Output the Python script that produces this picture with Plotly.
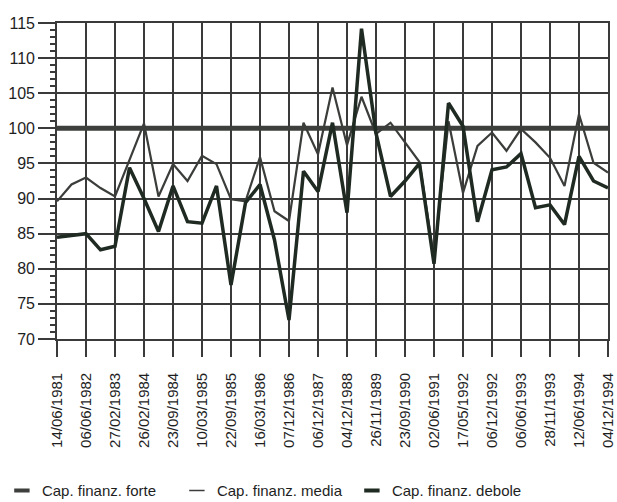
import plotly.graph_objects as go

date_labels = ["14/06/1981", "06/06/1982", "27/02/1983", "26/02/1984", "23/09/1984",
               "10/03/1985", "22/09/1985", "16/03/1986", "07/12/1986", "06/12/1987",
               "04/12/1988", "26/11/1989", "23/09/1990", "02/06/1991", "17/05/1992",
               "06/12/1992", "06/06/1993", "28/11/1993", "12/06/1994", "04/12/1994"]

# 39 observations; every other one carries a date label
cap_media = [89.6, 92.0, 93.0, 91.5, 90.3, 95.4, 100.7, 90.3, 94.9, 92.5,
             96.1, 94.9, 89.9, 89.6, 95.9, 88.2, 86.8, 100.8, 96.3, 105.8,
             97.6, 104.5, 99.2, 100.8, 98.0, 95.2, 81.5, 101.0, 90.8, 97.5,
             99.4, 96.8, 99.9, 98.0, 95.8, 91.8, 102.0, 95.1, 93.7]

cap_debole = [84.5, 84.7, 85.0, 82.7, 83.2, 94.4, 90.0, 85.3, 91.8, 86.7,
              86.5, 91.8, 77.7, 89.4, 92.0, 84.1, 72.7, 93.9, 91.0, 100.8,
              88.0, 114.2, 99.3, 90.3, 92.5, 95.0, 80.7, 103.6, 100.3, 86.7,
              94.1, 94.5, 96.4, 88.7, 89.1, 86.3, 96.0, 92.5, 91.5]

cap_forte = [100.0] * len(cap_media)

series_names = ["Cap. finanz. forte", "Cap. finanz. media", "Cap. finanz. debole"]

x_idx = list(range(len(cap_media)))
label_pos = x_idx[::2]

FONT = "Liberation Sans, Arial, sans-serif"
TXT = "#1e1e1e"
GRID = "#3a3a3a"
styles = [dict(color="#3c3f3c", width=5),
          dict(color="#3a3d3a", width=2.2),
          dict(color="#1f2a22", width=3.5)]

fig = go.Figure()
for name, ys, st in zip(series_names, [cap_forte, cap_media, cap_debole], styles):
    fig.add_trace(go.Scatter(x=x_idx, y=ys, mode="lines", name=name,
                             line=st, showlegend=False))
# legend entries drawn as short dashes, like the original key
for name, st in zip(series_names, styles):
    fig.add_trace(go.Scatter(x=[None], y=[None], mode="markers", name=name,
                             marker=dict(symbol="line-ew", size=11,
                                         line=dict(color=st["color"], width=4 if st["width"] > 3 else 1.6))))

fig.update_layout(
    width=617, height=502,
    margin=dict(l=57, r=9, t=23, b=163, autoexpand=False),
    paper_bgcolor="white", plot_bgcolor="white",
    font=dict(family=FONT, color=TXT),
    showlegend=True,
    legend=dict(orientation="h", x=-0.1, xanchor="left", y=-0.48, yanchor="middle",
                font=dict(size=15, family=FONT, color=TXT),
                entrywidth=130, entrywidthmode="pixels",
                itemwidth=30, tracegroupgap=0, bgcolor="rgba(0,0,0,0)"),
)

fig.update_xaxes(
    range=[0, 38], tickmode="array", tickvals=label_pos, ticktext=date_labels,
    tickangle=-90, tickfont=dict(size=15, family=FONT, color=TXT),
    ticks="outside", ticklen=16, tickwidth=1.5, tickcolor=GRID, ticklabelstandoff=10,
    showgrid=True, gridcolor=GRID, gridwidth=1.6, automargin=False,
    showline=True, linecolor=GRID, linewidth=1.6, mirror=True, zeroline=False,
)
fig.update_yaxes(
    range=[70, 115], tickmode="linear", tick0=70, dtick=5,
    tickfont=dict(size=16, family=FONT, color=TXT),
    ticks="outside", ticklen=17, tickwidth=1.5, tickcolor=GRID,
    minor=dict(ticks="outside", ticklen=5, dtick=1, tickwidth=1.5, tickcolor=GRID, showgrid=False),
    showgrid=True, gridcolor=GRID, gridwidth=1.6, automargin=False,
    showline=True, linecolor=GRID, linewidth=1.6, mirror=True, zeroline=False,
)

fig.write_html("out.html", config={"displayModeBar": False},
               post_script="document.body.style.margin='0';")
